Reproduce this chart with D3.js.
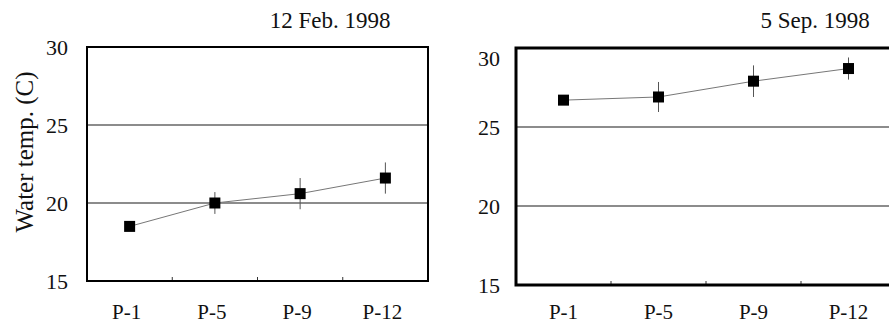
<!DOCTYPE html>
<html>
<head>
<meta charset="utf-8">
<script src="https://cdn.jsdelivr.net/npm/d3@7"></script>
<style>
  body { margin: 0; background: #fff; }
</style>
</head>
<body>
<div id="chart"></div>
<script>
// sites along the river and the two sampling dates
var sites = ["P-1", "P-5", "P-9", "P-12"];
var yTicks = [15, 20, 25, 30];
var gridValues = [20, 25];

var febMean = [18.5, 20.0, 20.6, 21.6];
var febErr  = [0.2, 0.7, 1.0, 1.0];
var sepMean = [26.7, 26.9, 27.9, 28.7];
var sepErr  = [0.3, 0.95, 1.0, 0.7];

var serif = "'Liberation Serif'";

var svg = d3.select("#chart")
  .append("svg")
    .attr("width", 889)
    .attr("height", 325);

// y axis title, shared by both panels
svg.append("text")
  .attr("transform", "translate(33,152) rotate(-90)")
  .attr("text-anchor", "middle")
  .style("font-family", serif)
  .style("font-size", "25px")
  .attr("fill", "#111")
  .text("Water temp. (C)");

function panel(opt) {
  var g = svg.append("g")
    .attr("transform", "translate(" + opt.left + "," + opt.top + ")");
  var w = opt.width, h = opt.height;

  var x = d3.scaleBand().domain(sites).range([0, w]);
  var y = d3.scaleLinear().domain([15, 30]).range([h, 0]);

  // horizontal reference lines
  g.selectAll(".grid")
    .data(gridValues)
    .enter()
    .append("line")
      .attr("x1", 0).attr("x2", w)
      .attr("y1", function(d) { return y(d); })
      .attr("y2", function(d) { return y(d); })
      .attr("stroke", "#666")
      .attr("stroke-width", 1.3);

  // small ticks between categories on the bottom edge
  g.selectAll(".sep")
    .data(sites.slice(1))
    .enter()
    .append("line")
      .attr("x1", function(d) { return x(d); })
      .attr("x2", function(d) { return x(d); })
      .attr("y1", h).attr("y2", h - 4)
      .attr("stroke", "#333");

  // frame
  g.append("rect")
    .attr("width", w).attr("height", h)
    .attr("fill", "none")
    .attr("stroke", "#000")
    .attr("stroke-width", opt.frame);

  // y labels
  var ya = g.append("g")
    .call(d3.axisLeft(y).tickValues(yTicks).tickSize(0).tickPadding(opt.ypad));
  ya.attr("font-family", null);
  ya.select(".domain").remove();
  ya.selectAll("text")
    .style("font-family", serif)
    .style("font-size", "22px")
    .attr("fill", "#111");
  if (opt.topNudge) {
    ya.selectAll("text").filter(function(d) { return d === 30; })
      .attr("dy", "0.8em");
  }

  // x labels
  var xa = g.append("g")
    .attr("transform", "translate(0," + h + ")")
    .call(d3.axisBottom(x).tickSize(0).tickPadding(opt.xpad));
  xa.attr("font-family", null);
  xa.select(".domain").remove();
  xa.selectAll("text")
    .style("font-family", serif)
    .style("font-size", "21px")
    .attr("dx", opt.xshift)
    .attr("fill", "#111");

  var cx = function(i) { return x(sites[i]) + x.bandwidth() / 2; };
  var pts = opt.mean.map(function(m, i) { return {i: i, m: m, e: opt.err[i]}; });

  // connecting line
  g.append("path")
    .datum(pts)
    .attr("fill", "none")
    .attr("stroke", "#777")
    .attr("stroke-width", 1)
    .attr("d", d3.line()
      .x(function(d) { return cx(d.i); })
      .y(function(d) { return y(d.m); }));

  // error bars
  g.selectAll(".err")
    .data(pts)
    .enter()
    .append("line")
      .attr("x1", function(d) { return cx(d.i); })
      .attr("x2", function(d) { return cx(d.i); })
      .attr("y1", function(d) { return y(d.m + d.e); })
      .attr("y2", function(d) { return y(d.m - d.e); })
      .attr("stroke", "#555")
      .attr("stroke-width", 1);

  // markers
  g.selectAll(".pt")
    .data(pts)
    .enter()
    .append("rect")
      .attr("x", function(d) { return cx(d.i) - 5.5; })
      .attr("y", function(d) { return y(d.m) - 5.5; })
      .attr("width", 11).attr("height", 11)
      .attr("fill", "#000");

  // date
  svg.append("text")
    .attr("x", opt.titleX).attr("y", 28)
    .attr("text-anchor", "middle")
    .style("font-family", serif)
    .style("font-size", "23px")
    .attr("fill", "#111")
    .text(opt.title);
}

panel({left: 87, top: 47, width: 341, height: 234, frame: 2, ypad: 19, xpad: 23, xshift: -3,
       mean: febMean, err: febErr, title: "12 Feb. 1998", titleX: 330});
panel({left: 516, top: 48, width: 380, height: 237, frame: 3, ypad: 16, xpad: 19, xshift: 0,
       mean: sepMean, err: sepErr, title: "5 Sep. 1998", titleX: 815, topNudge: true});
</script>
</body>
</html>
